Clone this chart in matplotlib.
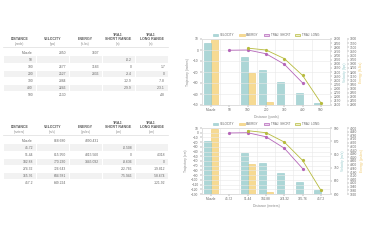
import numpy as np
import matplotlib.pyplot as plt
from matplotlib.patches import Patch, Rectangle

# imperial (top table / top chart)
dist_yd = ['Muzzle', '50', '100', '200', '300', '400', '500']
vel_fps = [2850, None, 2677, 2527, 2384, 2246, 2130]
energy_ftlb = [3607, None, 3183, 2836, None, None, None]
short_in = [None, -0.2, 0, -3.4, -12.9, -29.9, None]
long_in = [None, None, 1.7, 0, -7.8, -23.1, -48.0]

# metric (bottom table / bottom chart)
dist_m = ['Muzzle', '45.72', '91.44', '182.88', '274.32', '365.76', '457.2']
vel_ms = [868.680, None, 815.950, 770.230, 726.643, 684.581, 649.224]
energy_j = [4890.431, None, 4315.560, 3845.092, None, None, None]
short_cm = [None, -0.508, 0, -8.636, -32.766, -75.946, None]
long_cm = [None, None, 4.318, 0, -19.812, -58.674, -121.92]

headers = [['DISTANCE'], ['VELOCITY'], ['ENERGY'], ['TRAJ.', 'SHORT RANGE'], ['TRAJ.', 'LONG RANGE']]
units_imp = ['(yards)', '(fps)', '(ft-lbs)', '(in)', '(in)']
units_met = ['(meters)', '(m/s)', '(joules)', '(cm)', '(cm)']
legend_labels = ['VELOCITY', 'ENERGY', 'TRAJ. SHORT', 'TRAJ. LONG']

plt.rcParams['font.family'] = ['Liberation Sans', 'DejaVu Sans']
TXT = '#666666'
GRID = '#e8e8e8'
BLUE, BLUE_E = '#acd6d6', '#93c9ca'
YEL, YEL_E = '#f6da93', '#f0c96c'
PUR = '#b566b9'
OLI = '#b7bb3e'

fig = plt.figure(figsize=(3.65, 2.4), dpi=100)
tab = fig.add_axes([0, 0, 1, 1])
tab.set_xlim(0, 365)
tab.set_ylim(240, 0)
tab.axis('off')

cols = [3, 36, 69, 102, 135, 168]


def fmt(v, nd):
    if v is None:
        return ''
    if nd == 0:
        return '%d' % round(v)
    return ('%.' + str(nd) + 'f') % v


def trj(v):
    if v is None:
        return ''
    return ('%.3f' % v).rstrip('0').rstrip('.')


def draw_table(y0, rows, units):
    # header
    for c in range(5):
        xc = (cols[c] + cols[c + 1]) / 2
        lines = headers[c]
        for k, s in enumerate(lines):
            yy = y0 + 4.6 - 4.3 * (len(lines) - 1 - k)
            tab.text(xc, yy, s, ha='center', va='center', fontsize=2.5,
                     color='#555555', fontweight='bold')
        tab.text(xc, y0 + 9.0, units[c], ha='center', va='center',
                 fontsize=2.2, color='#888888')
    tab.plot([cols[0], cols[-1]], [y0 + 12.5] * 2, color='#dddddd', lw=0.5)
    for r, row in enumerate(rows):
        yy = y0 + 18 + 7.1 * r
        if r % 2 == 1:
            for c in range(5):
                tab.add_patch(Rectangle((cols[c] + 0.5, yy - 3.3), cols[c + 1] - cols[c] - 1, 6.6,
                                        facecolor='#f2f2f2', edgecolor='none'))
        for c in range(5):
            tab.text(cols[c + 1] - 3, yy, row[c], ha='right', va='center',
                     fontsize=2.4, color=TXT)


rows_imp = [[dist_yd[i], fmt(vel_fps[i], 0), fmt(energy_ftlb[i], 0), trj(short_in[i]), trj(long_in[i])]
            for i in range(len(dist_yd))]
rows_met = [[dist_m[i], fmt(vel_ms[i], 3), fmt(energy_j[i], 3), trj(short_cm[i]), trj(long_cm[i])]
            for i in range(len(dist_m))]
draw_table(34.5, rows_imp, units_imp)
draw_table(122.5, rows_met, units_met)


def draw_chart(y_top, labels, vel, en, short, long, vt, et, tt, xlabel, tlabel, vlabel, elabel):
    ax = fig.add_axes([202 / 365, 1 - (y_top + 66) / 240, 128 / 365, 66 / 240])
    ax_v = ax.twinx()
    ax_e = ax.twinx()
    ax_e.spines['right'].set_position(('outward', 12))
    ax.set_zorder(3)
    ax.patch.set_visible(False)
    ax_v.set_zorder(2)
    ax_e.set_zorder(1)

    idx = np.arange(len(labels))
    w = 0.38
    iv = [i for i in idx if vel[i] is not None]
    ie = [i for i in idx if en[i] is not None]
    ax_v.bar(np.array(iv) - w / 2, [vel[i] for i in iv], w, color=BLUE, edgecolor=BLUE_E, lw=0.4)
    ax_e.bar(np.array(ie) + w / 2, [en[i] for i in ie], w, color=YEL, edgecolor=YEL_E, lw=0.4)

    isr = [i for i in idx if short[i] is not None]
    ilr = [i for i in idx if long[i] is not None]
    ax.plot(isr, [short[i] for i in isr], color=PUR, lw=0.6, marker='o', ms=1.3)
    ax.plot(ilr, [long[i] for i in ilr], color=OLI, lw=0.6, marker='o', ms=1.3)

    ax.set_xlim(-0.5, len(labels) - 0.5)
    ax.set_xticks(idx)
    ax.set_xticklabels(labels)
    ax.set_xticks(idx[:-1] + 0.5, minor=True)
    ax.set_ylim(tt[0], tt[-1])
    ax.set_yticks(tt)
    ax_v.set_ylim(vt[0], vt[-1])
    ax_v.set_yticks(vt)
    ax_e.set_ylim(et[0], et[-1])
    ax_e.set_yticks(et)

    ax.grid(which='major', axis='y', color=GRID, lw=0.4)
    ax.grid(which='minor', axis='x', color=GRID, lw=0.4)
    for a in (ax, ax_v, ax_e):
        a.tick_params(labelsize=2.3, colors=TXT, length=1.5, width=0.3, pad=1)
        a.tick_params(which='minor', length=0)
        for s in a.spines.values():
            s.set_color('#dddddd')
            s.set_linewidth(0.4)
    ax.set_xlabel(xlabel, fontsize=2.4, color='#888888', labelpad=2)
    ax.set_ylabel(tlabel, fontsize=2.4, color='#888888', labelpad=2)
    ax_v.set_ylabel(vlabel, fontsize=2.4, color=BLUE_E, labelpad=1.5)
    ax_e.set_ylabel(elabel, fontsize=2.4, color=YEL_E, labelpad=1.5)

    handles = [Patch(facecolor=BLUE, edgecolor=BLUE_E, lw=0.4),
               Patch(facecolor=YEL, edgecolor=YEL_E, lw=0.4),
               Patch(facecolor='#ead3ec', edgecolor=PUR, lw=0.5),
               Patch(facecolor='#eef0cc', edgecolor=OLI, lw=0.5)]
    leg = ax.legend(handles, legend_labels, loc='lower center', bbox_to_anchor=(0.5, 1.0),
                    ncol=4, fontsize=2.2, frameon=False, handlelength=1.8, handleheight=0.8,
                    columnspacing=1.6, handletextpad=0.5, borderaxespad=0.3)
    for t in leg.get_texts():
        t.set_color(TXT)


draw_chart(39, dist_yd, vel_fps, energy_ftlb, short_in, long_in,
           np.arange(2100, 2901, 50), np.arange(2800, 3601, 50), np.arange(-50, 11, 10),
           'Distance (yards)', 'Trajectory (inches)', 'Velocity (fps)', 'Energy (ft-lbs)')
draw_chart(128, dist_m, vel_ms, energy_j, short_cm, long_cm,
           np.arange(630, 931, 60), np.arange(3820, 4901, 60), np.arange(-130, 11, 10),
           'Distance (meters)', 'Trajectory (cm)', 'Velocity (m/s)', 'Energy (joules)')

fig.savefig('out.png', dpi=100)
